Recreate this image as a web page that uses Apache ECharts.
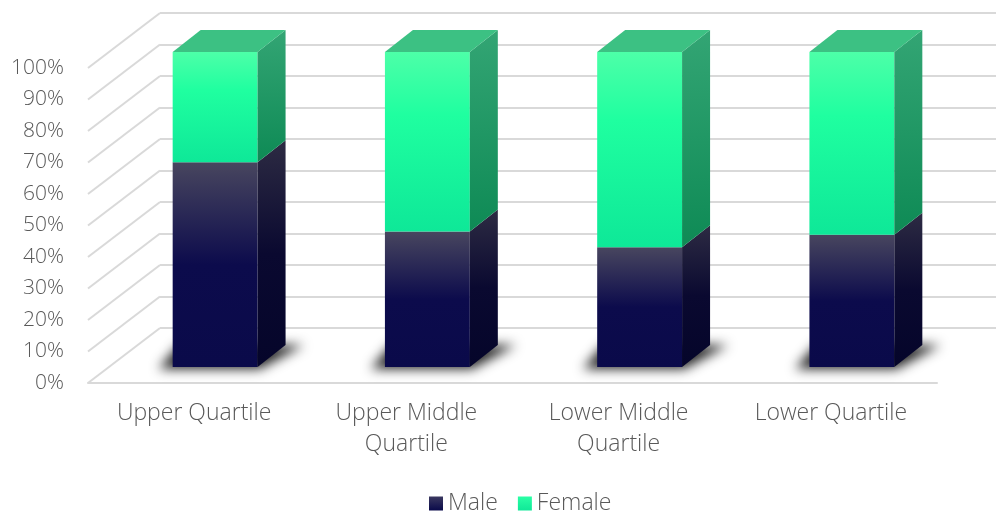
<!DOCTYPE html>
<html>
<head>
<meta charset="utf-8">
<script src="https://cdn.jsdelivr.net/npm/echarts@6/dist/echarts.min.js"></script>
<style>html,body{margin:0;padding:0;background:#fff}#c{width:996px;height:511px}</style>
</head>
<body>
<div id="c"></div>
<script>
var categories = ['Upper Quartile', 'Upper Middle\nQuartile', 'Lower Middle\nQuartile', 'Lower Quartile'];
var maleValues = [65, 43, 38, 42];
var femaleValues = [35, 57, 62, 58];
var yTicks = [0, 10, 20, 30, 40, 50, 60, 70, 80, 90, 100];

var FONT = '"Open Sans", Lato, sans-serif';
var FW = 300;
var TXT = '#595959';
var GRIDC = '#d9d9d9';
// perspective offsets
var WALL_DX = 72, WALL_DY = -55;     // front plane -> back wall
var BAR_DX = 21, BAR_DY = -16;       // front plane -> bar front face
var DEP_DX = 28, DEP_DY = -22;       // bar depth
var FAR = 3000;                      // shadow-only trick offset

function lg(stops) {
  return new echarts.graphic.LinearGradient(0, 0, 0, 1, stops.map(function (s) { return { offset: s[0], color: s[1] }; }));
}
var palette = {
  Male: {
    front: [[0, '#48465f'], [0.5, '#0c0b4c'], [1, '#0a0a4a']],
    side: [[0, '#2d2b43'], [0.5, '#0a0930'], [1, '#05052a']],
    top: '#3a3852',
    legend: [[0, '#3a3860'], [1, '#0a0a4a']]
  },
  Female: {
    front: [[0, '#4dffa8'], [0.35, '#1fffa0'], [1, '#0ee898']],
    side: [[0, '#33a574'], [1, '#0e8a55']],
    top: '#3cc183',
    legend: [[0, '#2affa5'], [1, '#10e898']]
  }
};

function makeData(startArr, endArr) {
  return categories.map(function (c, i) { return [i, startArr[i], endArr[i]]; });
}
var maleData = makeData(categories.map(function () { return 0; }), maleValues);
var femaleData = makeData(maleValues, maleValues.map(function (m, i) { return m + femaleValues[i]; }));

function barRenderer(name, isTop, withShadow) {
  var pal = palette[name];
  return function (params, api) {
    var idx = api.value(0);
    var p0 = api.coord([idx, api.value(1)]);
    var p1 = api.coord([idx, api.value(2)]);
    var band = api.size([1, 0])[0];
    var w = band * 0.4;
    var xl = p0[0] - w / 2 + BAR_DX, xr = xl + w;
    var yb = p0[1] + BAR_DY, yt = p1[1] + BAR_DY;
    var children = [];
    if (withShadow) {
      var pts = [[xl - 14, yb + 2], [xr + 2, yb + 2], [xr + DEP_DX + 18, yb + DEP_DY], [xl + 6, yb + DEP_DY]];
      children.push({
        type: 'polygon',
        shape: { points: pts.map(function (p) { return [p[0] - FAR, p[1]]; }) },
        style: { fill: '#000', shadowBlur: 12, shadowColor: 'rgba(0,0,0,0.85)', shadowOffsetX: FAR, shadowOffsetY: 0 }
      });
    }
    children.push({
      type: 'rect',
      shape: { x: xl, y: yt, width: w, height: yb - yt },
      style: { fill: lg(pal.front) }
    });
    children.push({
      type: 'polygon',
      shape: { points: [[xr, yb], [xr + DEP_DX, yb + DEP_DY], [xr + DEP_DX, yt + DEP_DY], [xr, yt]] },
      style: { fill: lg(pal.side) }
    });
    if (isTop) {
      children.push({
        type: 'polygon',
        shape: { points: [[xl, yt], [xr, yt], [xr + DEP_DX, yt + DEP_DY], [xl + DEP_DX, yt + DEP_DY]] },
        style: { fill: pal.top }
      });
    }
    return { type: 'group', children: children };
  };
}

var chart = echarts.init(document.getElementById('c'), null, { renderer: 'canvas' });
chart.setOption({
  animation: false,
  backgroundColor: '#ffffff',
  textStyle: { fontFamily: FONT },
  legend: {
    top: 487,
    left: 424,
    icon: 'rect',
    itemWidth: 14,
    itemHeight: 14,
    itemGap: 20,
    textStyle: { fontSize: 23, color: TXT, fontFamily: FONT, fontWeight: FW },
    data: [
      { name: 'Male', itemStyle: { color: lg(palette.Male.legend) } },
      { name: 'Female', itemStyle: { color: lg(palette.Female.legend) } }
    ]
  },
  grid: [
    { left: 88, right: 59, top: 68, bottom: 128 },
    { left: 88 + WALL_DX, right: 0, top: 68 + WALL_DY, bottom: 128 - WALL_DY }
  ],
  xAxis: [
    {
      type: 'category', gridIndex: 0, data: categories,
      axisLine: { show: true, lineStyle: { color: GRIDC, width: 2 } },
      axisTick: { show: false },
      axisLabel: { interval: 0, color: TXT, fontSize: 23, lineHeight: 31, margin: 15, fontFamily: FONT, fontWeight: FW }
    },
    { type: 'category', gridIndex: 1, data: categories, show: false }
  ],
  yAxis: [
    {
      type: 'value', gridIndex: 0, min: 0, max: 100, interval: 10,
      axisLine: { show: false }, axisTick: { show: false },
      splitLine: { show: false },
      axisLabel: { color: TXT, fontSize: 21, margin: 24, fontFamily: FONT, fontWeight: FW, formatter: '{value}%' }
    },
    {
      type: 'value', gridIndex: 1, min: 0, max: 100, interval: 10,
      axisLine: { show: false }, axisTick: { show: false }, axisLabel: { show: false },
      splitLine: { show: true, lineStyle: { color: GRIDC, width: 2 } }
    }
  ],
  series: [
    {
      name: 'Diagonals', type: 'custom', xAxisIndex: 0, yAxisIndex: 0, silent: true, z: 1,
      data: yTicks.map(function (v) { return [0, v]; }),
      renderItem: function (params, api) {
        var p = api.coord([0, api.value(1)]);
        var x0 = params.coordSys.x;
        return {
          type: 'line',
          shape: { x1: x0, y1: p[1], x2: x0 + WALL_DX, y2: p[1] + WALL_DY },
          style: { stroke: GRIDC, lineWidth: 2 }
        };
      }
    },
    {
      name: 'Male', type: 'custom', xAxisIndex: 0, yAxisIndex: 0, z: 3,
      itemStyle: { color: lg(palette.Male.legend) },
      data: maleData,
      renderItem: barRenderer('Male', false, true)
    },
    {
      name: 'Female', type: 'custom', xAxisIndex: 0, yAxisIndex: 0, z: 4,
      itemStyle: { color: lg(palette.Female.legend) },
      data: femaleData,
      renderItem: barRenderer('Female', true, false)
    }
  ]
});
</script>
</body>
</html>
